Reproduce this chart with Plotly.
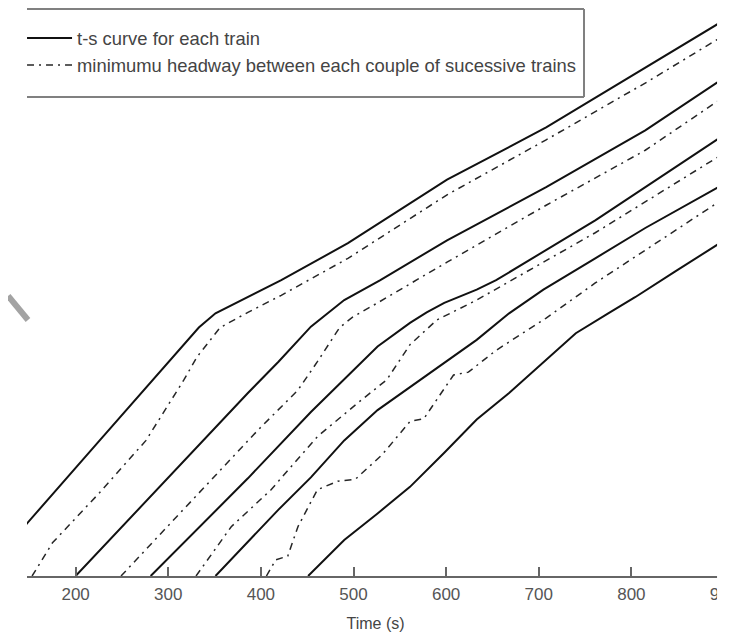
import plotly.graph_objects as go

# ---- data: time (s) vs distance (m) for each train (t-s curves) ----
A_t = [97, 148, 226, 283, 317, 333, 351, 386, 422, 494, 601, 708, 815, 892, 910]
A_s = [0, 560, 1430, 2070, 2440, 2620, 2770, 2940, 3120, 3510, 4180, 4730, 5360, 5810, 5920]
B_t = [200, 279, 333, 386, 419, 454, 490, 529, 601, 708, 815, 892, 910]
B_s = [0, 820, 1370, 1930, 2260, 2630, 2910, 3120, 3540, 4100, 4700, 5200, 5300]
C_t = [281, 386, 454, 490, 526, 561, 579, 598, 633, 654, 761, 892, 910]
C_s = [0, 1030, 1730, 2070, 2420, 2670, 2780, 2880, 3020, 3120, 3750, 4600, 4710]
D_t = [351, 419, 454, 490, 526, 561, 598, 633, 668, 705, 761, 815, 892, 910]
D_s = [0, 700, 1040, 1430, 1750, 1990, 2250, 2490, 2770, 3020, 3350, 3670, 4090, 4180]
E_t = [451, 490, 526, 561, 598, 633, 668, 705, 740, 775, 804, 847, 892, 910]
E_s = [0, 380, 660, 940, 1300, 1650, 1930, 2250, 2560, 2770, 2940, 3210, 3490, 3600]

# ---- minimum headway curves between successive trains ----
a_t = [153, 175, 226, 276, 317, 331, 356, 386, 422, 494, 601, 708, 817, 892, 910]
a_s = [0, 350, 880, 1430, 2070, 2310, 2620, 2780, 2960, 3350, 4020, 4600, 5210, 5650, 5760]
b_t = [249, 333, 397, 440, 461, 485, 499, 526, 601, 708, 815, 892, 910]
b_s = [0, 880, 1540, 1960, 2260, 2620, 2730, 2880, 3310, 3910, 4490, 5000, 5100]
c_t = [330, 368, 411, 461, 504, 536, 561, 590, 633, 761, 892, 910]
c_s = [0, 520, 910, 1470, 1820, 2070, 2440, 2700, 2910, 3620, 4410, 4510]
d_t = [406, 416, 429, 440, 461, 483, 502, 531, 561, 576, 608, 624, 654, 708, 761, 815, 892, 910]
d_s = [0, 170, 210, 520, 910, 1000, 1020, 1280, 1630, 1660, 2120, 2150, 2380, 2720, 3090, 3440, 3930, 4040]

x_ticks = [200, 300, 400, 500, 600, 700, 800, 900]
x_tick_labels = ["200", "300", "400", "500", "600", "700", "800", "900"]

label_solid = "t-s curve for each train"
label_dash = "minimumu headway between each couple of sucessive trains"

trains = [(A_t, A_s), (B_t, B_s), (C_t, C_s), (D_t, D_s), (E_t, E_s)]
headways = [(a_t, a_s), (b_t, b_s), (c_t, c_s), (d_t, d_s)]

FONT = "Liberation Sans Narrow, Liberation Sans, Arial, sans-serif"

fig = go.Figure()
for i, (t, s) in enumerate(trains):
    fig.add_trace(go.Scatter(
        x=t, y=s, mode="lines", name=label_solid,
        line=dict(color="#111111", width=2),
        showlegend=(i == 0), legendgroup="solid"))
for i, (t, s) in enumerate(headways):
    fig.add_trace(go.Scatter(
        x=t, y=s, mode="lines", name=label_dash,
        line=dict(color="#262626", width=1.5, dash="7px,5px,2px,5px"),
        showlegend=(i == 0), legendgroup="dash"))

W, H = 730, 630
L, R, T, B = 19, 9, 0, 62
pw = W - L - R
ph = H - T - B

def px_x(p):
    return (p - L) / pw

def px_y(p):
    return (H - B - p) / ph

shapes = [
    # legend frame (left part cropped away in the original)
    dict(type="line", xref="paper", yref="paper", x0=px_x(19), x1=px_x(580),
         y0=px_y(1), y1=px_y(1), line=dict(color="#808080", width=2)),
    dict(type="line", xref="paper", yref="paper", x0=px_x(580), x1=px_x(580),
         y0=px_y(1), y1=px_y(89), line=dict(color="#808080", width=2)),
    dict(type="line", xref="paper", yref="paper", x0=px_x(19), x1=px_x(580),
         y0=px_y(89), y1=px_y(89), line=dict(color="#808080", width=2)),
    # right crop edge of the original image
    dict(type="rect", xref="paper", yref="paper", x0=px_x(714), x1=px_x(740),
         y0=px_y(640), y1=px_y(-5), fillcolor="white", line=dict(width=0),
         layer="above"),
    # grey stroke artifact at the left
    dict(type="line", xref="paper", yref="paper", x0=px_x(0), x1=px_x(20),
         y0=px_y(288), y1=px_y(312), line=dict(color="#a3a3a3", width=6),
         layer="above"),
]

fig.update_layout(
    width=W, height=H,
    margin=dict(l=L, r=R, t=T, b=B, pad=0),
    paper_bgcolor="white", plot_bgcolor="white",
    font=dict(family=FONT, color="#444444", size=16),
    showlegend=True,
    legend=dict(x=px_x(14), y=px_y(11.5), xanchor="left", yanchor="top",
                bgcolor="rgba(0,0,0,0)", borderwidth=0,
                font=dict(family=FONT, size=18.4, color="#444444"),
                itemwidth=45, tracegroupgap=0),
    shapes=shapes,
    xaxis=dict(range=[147.5, 900], tickmode="array", tickvals=x_ticks,
               ticktext=x_tick_labels, ticks="inside", ticklen=9,
               tickwidth=1.5, tickcolor="#666666", showline=True,
               linecolor="#666666", linewidth=2, showgrid=False,
               zeroline=False, ticklabelstandoff=2,
               ticklabeloverflow="allow",
               tickfont=dict(family=FONT, size=17, color="#555555"),
               title=dict(text="Time (s)", standoff=14,
                          font=dict(family=FONT, size=16, color="#444444"))),
    yaxis=dict(range=[0, 5990], visible=False, showgrid=False, zeroline=False),
)

fig.write_html("out.html")
